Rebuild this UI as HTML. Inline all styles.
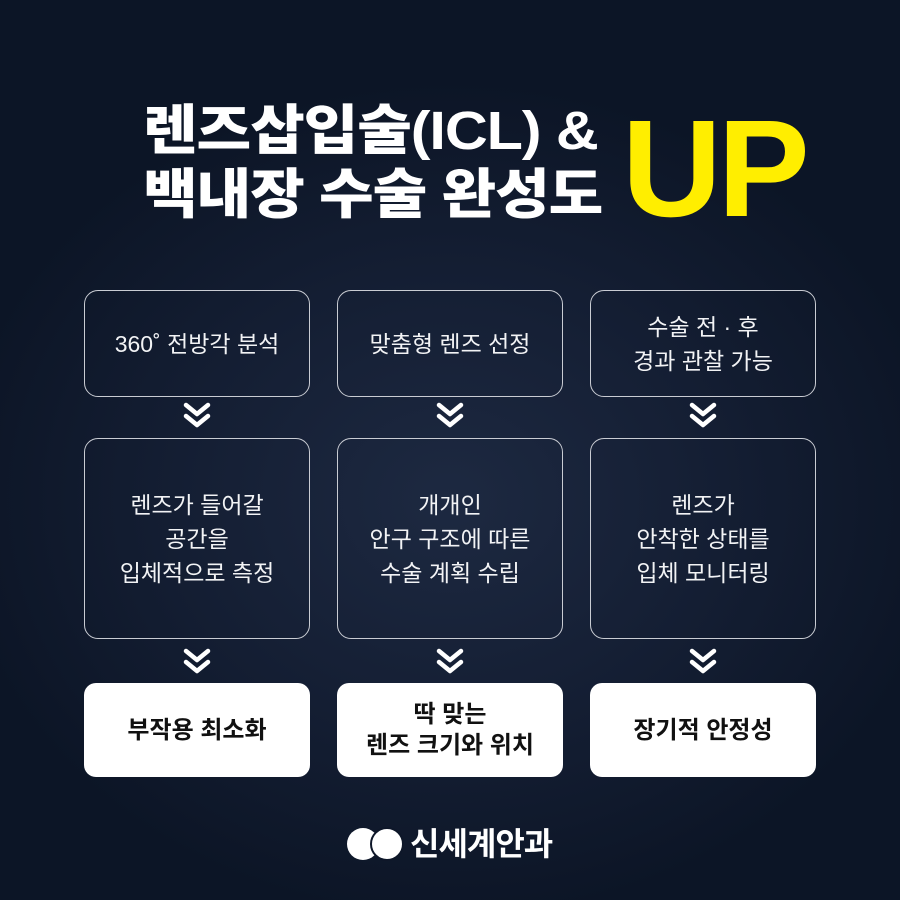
<!DOCTYPE html>
<html><head><meta charset="utf-8"><style>
*{margin:0;padding:0;box-sizing:border-box}
body{width:900px;height:900px;overflow:hidden;background:radial-gradient(ellipse 500px 420px at 450px 500px,#1d2941 0%,#141e33 55%,#0c1526 100%);font-family:"Liberation Sans","Noto Sans CJK KR",sans-serif;color:#fff;position:relative}
.t{position:absolute;font-weight:900;font-size:54px;letter-spacing:-1px;white-space:nowrap;line-height:1;transform-origin:0 0;transform:scaleX(1.1)}
.up{position:absolute;left:622px;top:100px;font-size:138px;font-weight:900;color:#ffee00;letter-spacing:-4px;line-height:1;font-family:"Liberation Sans",sans-serif}
.b{position:absolute;width:226px;border:1.5px solid #c9ccd3;border-radius:14px;display:flex;align-items:center;justify-content:center;text-align:center;font-size:23px;line-height:34px;color:#f2f3f5}
.w{position:absolute;width:226px;height:94px;top:683px;background:#fff;border-radius:12px;display:flex;align-items:center;justify-content:center;text-align:center;color:#111;font-weight:700;font-size:24px;line-height:31px}
</style></head><body>
<div class="t" style="left:143px;top:104px">렌즈삽입술(ICL) &amp;</div>
<div class="t" style="left:143px;top:168px">백내장 수술 완성도</div>
<div class="up">UP</div>

<div class="b" style="left:84px;top:290px;height:107px">360˚ 전방각 분석</div>
<div class="b" style="left:337px;top:290px;height:107px">맞춤형 렌즈 선정</div>
<div class="b" style="left:590px;top:290px;height:107px">수술 전 · 후<br>경과 관찰 가능</div>

<div class="b" style="left:84px;top:438px;height:201px">렌즈가 들어갈<br>공간을<br>입체적으로 측정</div>
<div class="b" style="left:337px;top:438px;height:201px">개개인<br>안구 구조에 따른<br>수술 계획 수립</div>
<div class="b" style="left:590px;top:438px;height:201px">렌즈가<br>안착한 상태를<br>입체 모니터링</div>

<div class="w" style="left:84px">부작용 최소화</div>
<div class="w" style="left:337px">딱 맞는<br>렌즈 크기와 위치</div>
<div class="w" style="left:590px">장기적 안정성</div>

<svg width="900" height="900" style="position:absolute;left:0;top:0" fill="none" stroke="#fff" stroke-width="4.5" stroke-linecap="round" stroke-linejoin="round">
<g id="ch"><path d="M186 405l11 9 11-9M186 416l11 9 11-9"/></g>
<use href="#ch" x="253"/><use href="#ch" x="506"/>
<use href="#ch" y="246"/><use href="#ch" x="253" y="246"/><use href="#ch" x="506" y="246"/>
<circle cx="363" cy="844" r="16" fill="#fff" stroke="none"/>
<circle cx="387" cy="844" r="16" fill="#fff" stroke="#0e1729" stroke-width="2"/>
</svg>
<div style="position:absolute;left:410px;top:825px;font-size:32px;font-weight:700;letter-spacing:-1px;line-height:38px">신세계안과</div>
</body></html>
